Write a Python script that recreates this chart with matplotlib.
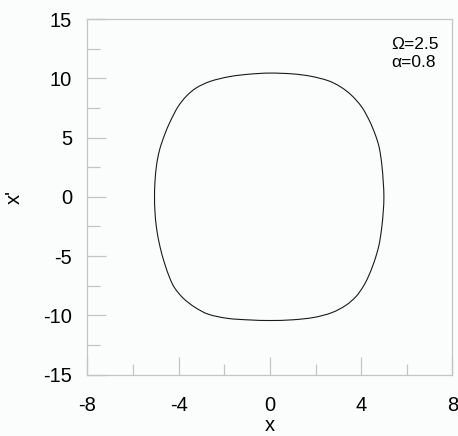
import matplotlib
matplotlib.use("Agg")
import matplotlib.pyplot as plt
import numpy as np
from matplotlib.path import Path
from matplotlib.patches import PathPatch
from matplotlib.ticker import MultipleLocator

plt.rcParams['font.family'] = ['Liberation Sans', 'DejaVu Sans']
plt.rcParams['axes.unicode_minus'] = False

# Closed phase trajectory (x, x'), traced clockwise from the top
x_vals = [0.00, 1.00, 1.80, 2.55, 3.08, 3.56, 4.02, 4.37, 4.63, 4.80, 4.91, 4.97, 5.00,
          4.97, 4.90, 4.78, 4.57, 4.30, 4.08, 3.78, 3.33, 2.71, 1.93, 1.00, 0.00,
          -0.90, -1.85, -2.70, -3.30, -3.80, -4.17, -4.38, -4.62, -4.82, -4.97, -5.04, -5.06,
          -5.04, -4.97, -4.84, -4.62, -4.36, -4.03, -3.66, -3.22, -2.60, -1.75, -0.88]
xdot_vals = [10.44, 10.37, 10.17, 9.80, 9.30, 8.60, 7.60, 6.40, 5.20, 4.10, 2.68, 1.27, 0.00,
             -1.26, -2.66, -4.10, -5.50, -6.80, -7.60, -8.40, -9.15, -9.77, -10.17, -10.37, -10.43,
             -10.38, -10.25, -9.90, -9.30, -8.55, -7.70, -6.90, -5.60, -4.20, -2.66, -1.25, 0.00,
             1.27, 2.68, 3.95, 5.22, 6.40, 7.60, 8.50, 9.20, 9.75, 10.15, 10.35]

omega = 2.5
alpha = 0.8

x_ticks = [-8, -4, 0, 4, 8]
y_ticks = [-15, -10, -5, 0, 5, 10, 15]


def closed_smooth_path(xs, ys):
    """Closed cubic Bezier path passing through every (x, y) point."""
    p = np.column_stack([xs, ys])
    n = len(p)
    verts = [p[0]]
    codes = [Path.MOVETO]
    for i in range(n):
        p0, p1, p2, p3 = p[i - 1], p[i], p[(i + 1) % n], p[(i + 2) % n]
        verts += [p1 + (p2 - p0) / 6.0, p2 - (p3 - p1) / 6.0, p2]
        codes += [Path.CURVE4] * 3
    return Path(verts, codes)


bg = '#fbfdfd'
fig = plt.figure(figsize=(4.58, 4.36), dpi=100, facecolor=bg)
ax = fig.add_axes([0.191, 0.1406, 0.7966, 0.8158], facecolor=bg)

ax.add_patch(PathPatch(closed_smooth_path(x_vals, xdot_vals), facecolor='none',
                       edgecolor='#1a1a1a', lw=0.8))

ax.set_xlim(-8, 8)
ax.set_ylim(-15, 15)
ax.set_xticks(x_ticks)
ax.set_yticks(y_ticks)
ax.xaxis.set_minor_locator(MultipleLocator(2))
ax.yaxis.set_minor_locator(MultipleLocator(2.5))

for s in ax.spines.values():
    s.set_color('#c4c4c4')
    s.set_linewidth(0.9)

ax.tick_params(which='both', direction='in', color='#c4c4c4', width=0.9,
               top=False, right=False, labelsize=14.5, labelcolor='black')
ax.tick_params(which='major', length=14, pad=11)
ax.tick_params(which='minor', length=9)
ax.tick_params(axis='x', which='major', length=13, pad=15)
ax.tick_params(axis='x', which='minor', length=8)

ax.set_xlabel('x', fontsize=14.5, labelpad=1)
ax.set_ylabel("x'", fontsize=14.5, labelpad=14)

ax.text(0.832, 0.949, f'Ω={omega}\nα={alpha}', transform=ax.transAxes,
        ha='left', va='top', fontsize=12.5, linespacing=1.2)

fig.savefig('out.png', dpi=100, facecolor=bg)
